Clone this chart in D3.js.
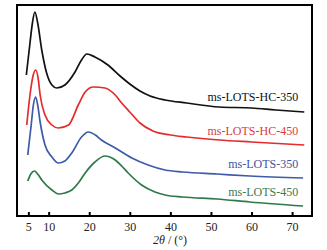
<!DOCTYPE html>
<html>
<head>
<meta charset="utf-8">
<script src="https://cdn.jsdelivr.net/npm/d3@7"></script>
<style>
    body { margin: 0; background: #fff; }
    svg { display: block; }
    .axis text { font-family: "Liberation Serif", "Times New Roman", serif; font-size: 12px; fill: #222; }
    .lbl { font-family: "Liberation Serif", "Times New Roman", serif; font-size: 12px; }
</style>
</head>
<body>
<div id="xrd-chart"></div>
<script>
    // Data: [2theta (deg), intensity (a.u., offset stacked)]
    var hc350 = [[4.5,141],[5.4,173],[6.0,193],[6.6,204],[7.3,193],[8.3,166],[9.5,143],[10.8,131],[12.0,128],
        [14.0,131],[16.5,144],[18.1,156],[19.4,162],[21.4,159],[24.6,151],[27.6,140],[30.0,132],[32.5,125],
        [35.0,120],[38.7,116],[44,113],[52,109],[60,108],[66,106],[73,104]];
    var hc450 = [[4.6,91],[5.4,121],[6.2,141],[6.8,146],[7.4,138],[7.9,121],[9.1,101],[10.8,91],[12.4,88],
        [14.9,91],[17.3,111],[19.0,124],[21.0,129],[23.9,128],[26.4,121],[28.0,113],[30.0,104],[32.5,93],
        [35.7,85],[40,81],[44,79],[52,76],[60,74],[73,71]];
    var lots350 = [[4.85,61],[5.7,91],[6.2,110],[6.8,119],[7.3,111],[7.9,94],[9.1,71],[10.8,59],[12.4,53],
        [14.0,55],[15.7,63],[18.1,79],[19.8,84],[21.5,81],[23.0,76],[26.4,68],[30.5,58],[34.5,51],[38.7,46],
        [43,44],[51.5,42],[59.6,40],[72.7,38]];
    var lots450 = [[4.85,35],[5.6,42],[6.5,45],[7.3,42],[8.3,36],[10.8,26],[12.4,22],[14.0,23],[15.7,26],
        [17.5,34],[19.0,43],[21.4,54],[23.9,60],[26.4,56],[28.0,50],[29.6,43],[32.9,31],[36.2,24],[38.7,21],
        [43,19],[51.5,17],[59.6,14],[72.7,10]];

    var seriesNames = ["ms-LOTS-HC-350", "ms-LOTS-HC-450", "ms-LOTS-350", "ms-LOTS-450"];
    var seriesData = [hc350, hc450, lots350, lots450];
    var seriesColors = ["#111111", "#e52b2e", "#3d5ba9", "#2f7a4a"];
    var labelColors = ["#111111", "#e0393a", "#3a55a0", "#3a7a52"];
    // label anchor (2theta, intensity)
    var labelPos = [[71.5,115],[71.5,81],[71.5,48],[71.5,20]];
    var xTicks = [5, 10, 20, 30, 40, 50, 60, 70];

    var W = 327, H = 250;
    var svg = d3.select("#xrd-chart").append("svg").attr("width", W).attr("height", H);

    var xScale = d3.scaleLinear().domain([2.2, 74.9]).range([17, 312]);
    var yScale = d3.scaleLinear().domain([0, 211]).range([216, 5]);

    var line = d3.line()
        .x(function(d) { return xScale(d[0]); })
        .y(function(d) { return yScale(d[1]); })
        .curve(d3.curveMonotoneX);

    // Curves
    for (var i = 0; i < seriesData.length; i++) {
        svg.append("path")
            .attr("d", line(seriesData[i]))
            .attr("fill", "none")
            .attr("stroke", seriesColors[i])
            .attr("stroke-width", 1.7);

        svg.append("text")
            .attr("class", "lbl")
            .attr("x", xScale(labelPos[i][0]))
            .attr("y", yScale(labelPos[i][1]))
            .attr("text-anchor", "end")
            .attr("fill", labelColors[i])
            .text(seriesNames[i]);
    }

    // Frame
    svg.append("rect")
        .attr("x", 17).attr("y", 5)
        .attr("width", 295).attr("height", 211)
        .attr("fill", "none")
        .attr("stroke", "#000")
        .attr("stroke-width", 2);

    // X axis, ticks pointing inward
    var xAxis = d3.axisBottom(xScale)
        .tickValues(xTicks)
        .tickSizeInner(-4)
        .tickSizeOuter(0)
        .tickPadding(6);
    var gx = svg.append("g").attr("class", "axis")
        .attr("transform", "translate(0,216)")
        .call(xAxis);
    gx.select(".domain").remove();
    gx.selectAll(".tick line").attr("stroke", "#000").attr("stroke-width", 2);

    // Axis title
    var title = svg.append("text")
        .attr("class", "lbl")
        .attr("x", 170).attr("y", 244)
        .attr("text-anchor", "middle")
        .attr("fill", "#222");
    title.append("tspan").attr("font-style", "italic").text("2θ");
    title.append("tspan").text(" / (°)");
</script>
</body>
</html>
